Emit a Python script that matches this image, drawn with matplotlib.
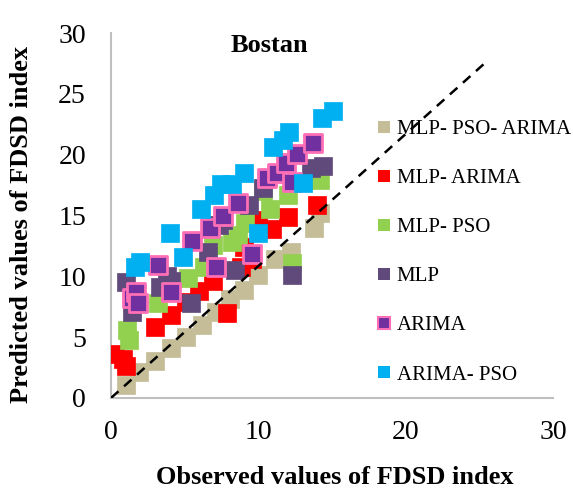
import matplotlib.pyplot as plt
from matplotlib.lines import Line2D

plt.rcParams['font.family'] = ['Liberation Serif', 'DejaVu Serif']

# observed / predicted FDSD index per model
mlp_pso_arima_x = [1.0, 1.9, 3.0, 4.1, 5.1, 6.2, 7.1, 8.1, 9.0, 10.0, 11.1, 12.2, 13.8, 14.2]
mlp_pso_arima_y = [1.1, 2.1, 3.0, 4.1, 5.0, 6.0, 7.1, 8.1, 8.9, 10.1, 11.4, 12.0, 14.0, 15.2]

mlp_arima_x = [0.3, 0.8, 1.0, 3.0, 4.1, 5.1, 6.0, 6.9, 7.9, 8.8, 9.0, 9.6, 10.0, 10.9, 12.0, 14.0]
mlp_arima_y = [3.6, 3.2, 2.6, 5.8, 6.8, 7.9, 8.8, 9.6, 7.0, 10.8, 12.4, 11.4, 14.6, 13.9, 14.9, 15.9]

mlp_pso_x = [1.1, 1.2, 3.2, 5.2, 6.3, 6.9, 8.2, 8.6, 9.1, 10.3, 10.8, 12.0, 12.3, 14.2]
mlp_pso_y = [5.6, 4.8, 7.8, 9.9, 10.8, 12.6, 12.8, 13.4, 14.4, 17.0, 15.5, 16.7, 11.1, 17.9]

mlp_x = [1.0, 1.4, 3.3, 3.8, 4.1, 5.4, 6.6, 7.3, 7.6, 8.4, 9.4, 10.3, 12.3, 13.6, 14.4]
mlp_y = [9.5, 7.1, 9.1, 10.0, 9.6, 7.8, 12.0, 14.2, 14.6, 10.5, 15.9, 17.3, 10.1, 18.9, 19.1]

arima_x = [1.4, 1.7, 1.8, 3.2, 4.1, 5.5, 6.7, 7.1, 7.6, 8.6, 9.6, 10.6, 11.3, 11.9, 12.3, 12.6, 13.7]
arima_y = [8.2, 8.7, 7.8, 10.9, 8.7, 12.9, 14.0, 10.8, 15.0, 16.0, 11.8, 18.1, 18.5, 19.3, 17.8, 20.1, 21.0]

arima_pso_x = [1.6, 2.0, 4.0, 4.9, 6.1, 7.0, 7.5, 8.2, 9.0, 10.0, 11.0, 11.7, 12.1, 13.0, 14.3, 15.1]
arima_pso_y = [10.8, 11.2, 13.6, 11.6, 15.5, 16.7, 17.6, 17.6, 18.5, 13.6, 20.6, 21.2, 21.9, 17.7, 23.0, 23.6]

labels = ['MLP- PSO- ARIMA', 'MLP- ARIMA', 'MLP- PSO', 'MLP', 'ARIMA', 'ARIMA- PSO']
faces = ['#C4BD97', '#FF0000', '#92D050', '#604A7B', '#7030A0', '#00B0F0']
edges = ['#C4BD97', '#FF0000', '#92D050', '#604A7B', '#FF6FB5', '#00B0F0']
series = [(mlp_pso_arima_x, mlp_pso_arima_y), (mlp_arima_x, mlp_arima_y),
          (mlp_pso_x, mlp_pso_y), (mlp_x, mlp_y), (arima_x, arima_y),
          (arima_pso_x, arima_pso_y)]

fig = plt.figure(figsize=(5.73, 4.95), dpi=100)
ax = fig.add_axes([0.1937, 0.196, 0.7713, 0.737])

for (x, y), fc, ec in zip(series, faces, edges):
    lw = 2 if ec != fc else 0.5
    ax.scatter(x, y, s=150, marker='s', facecolor=fc, edgecolor=ec, linewidths=lw, zorder=3)

# 1:1 style reference line
ax.plot([0, 25.5], [0, 27.67], color='black', linestyle=(0, (4, 3)), linewidth=1.8, zorder=4)

ax.set_xlim(0, 30)
ax.set_ylim(0, 30)
ax.set_xticks([0, 10, 20, 30])
ax.set_yticks([0, 5, 10, 15, 20, 25, 30])
ax.tick_params(length=0, labelsize=20)
ax.tick_params(axis='x', pad=16)
ax.tick_params(axis='y', pad=18)
for s in ['top', 'right']:
    ax.spines[s].set_visible(False)
for s in ['left', 'bottom']:
    ax.spines[s].set_color('#BFBFBF')
    ax.spines[s].set_linewidth(1.5)

fig.text(269 / 573, 1 - 45 / 495, 'Bostan', ha='center', va='center', fontsize=19, fontweight='bold')
fig.text(0.038, 1 - 224 / 495, 'Predicted values of FDSD index', rotation=90, ha='center', va='center',
         fontsize=19, fontweight='bold')
fig.text(0.585, 1 - 478 / 495, 'Observed values of FDSD index', ha='center', va='center',
         fontsize=19, fontweight='bold')

handles = [Line2D([], [], marker='s', linestyle='none', markersize=8.5,
                  markerfacecolor=fc, markeredgecolor=ec, markeredgewidth=1.5 if ec != fc else 0)
           for fc, ec in zip(faces, edges)]
fig.legend(handles, labels, loc='upper left', bbox_to_anchor=(0.645, 0.776), frameon=False,
           fontsize=15, labelspacing=1.42, handlelength=0.6, handletextpad=0.3, borderaxespad=0)

fig.savefig('out.png', dpi=100)
